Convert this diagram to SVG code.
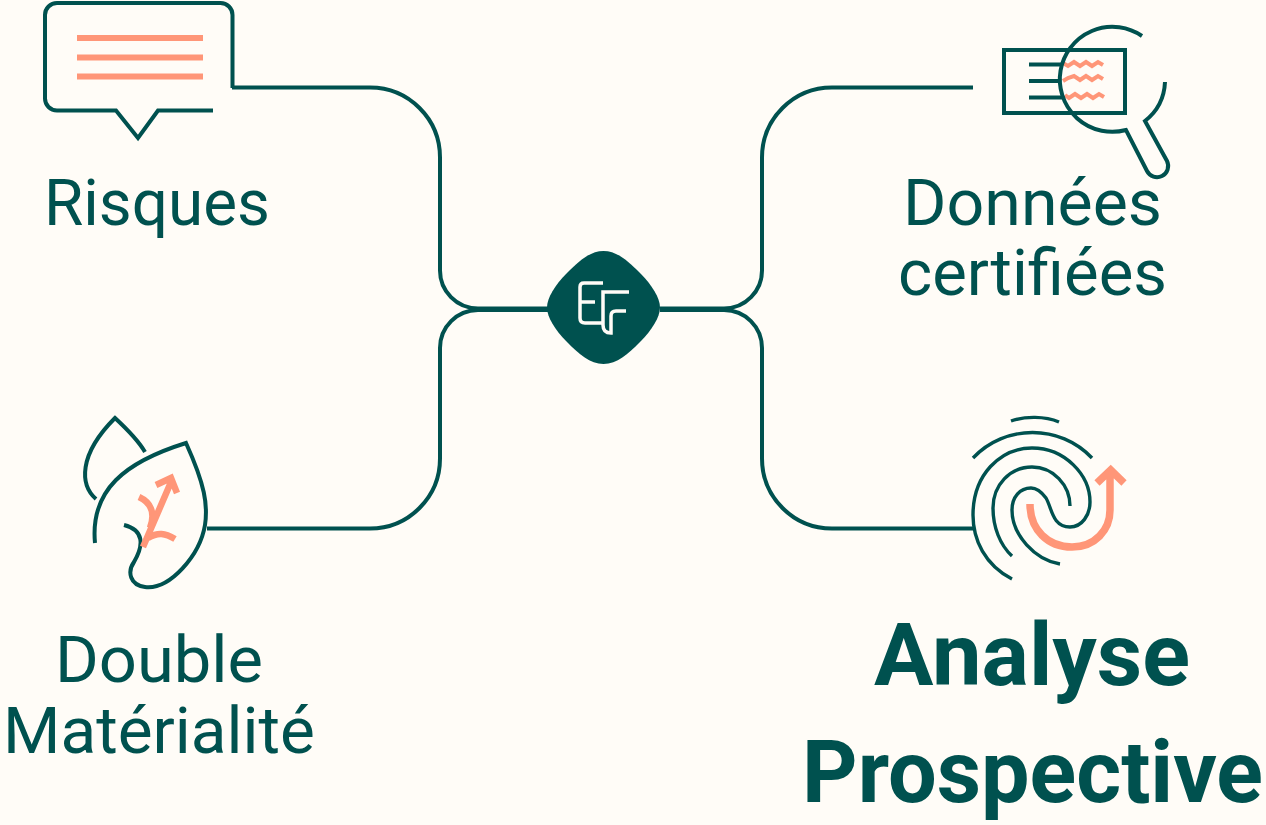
<svg xmlns="http://www.w3.org/2000/svg" width="1266" height="825" viewBox="0 0 1266 825">
<style>
.l{fill:none;stroke:#00514f;stroke-width:4}
.i{fill:none;stroke:#00514f;stroke-width:4}
.f{fill:none;stroke:#00514f;stroke-width:3.400}
.o{fill:none;stroke:#ff9678;stroke-width:6}
.p{fill:none;stroke:#ff9678;stroke-width:6.500}
.a{fill:none;stroke:#ff9678;stroke-width:7.500}
.w{fill:none;stroke:#ff9678;stroke-width:4}
.t{font-family:Roboto,"Open Sans",sans-serif;font-size:65px;fill:#00514f}
.b{font-family:Roboto,"Open Sans",sans-serif;font-size:87px;font-weight:700;fill:#00514f}
</style>
<rect width="1266" height="825" fill="#fffcf7"/>
<g id="connectors">
<path class="l" d="M232 87.500H370A70 70 0 0 1 440 157.500V270A38 38 0 0 0 478 308.500H548"/>
<path class="l" d="M207 528.500H370A70 70 0 0 0 440 458.500V348A38 38 0 0 1 478 310H548"/>
<path class="l" d="M973 87.500H832A70 70 0 0 0 762 157.500V270A38 38 0 0 1 724 308.500H660"/>
<path class="l" d="M973 528.500H832A70 70 0 0 1 762 458.500V348A38 38 0 0 0 724 310H660"/>
</g>
<g id="risques">
<path class="i" d="M232.500 88V15A12 12 0 0 0 220.500 3H57A12 12 0 0 0 45 15V98.500A12 12 0 0 0 57 110.500H116L138 138L158 110.500H213"/>
<path class="o" d="M77 38H203M77 57.500H203M77 76.500H203"/>
<text class="t" x="44" y="225" textLength="226" lengthAdjust="spacingAndGlyphs">Risques</text>
</g>
<g id="donnees">
<rect class="i" x="1004" y="50" width="121" height="63"/>
<path class="i" d="M1029 64.500H1062M1029 81H1060M1029 97.500H1062"/>
<path class="w" d="M1063 63l5 3l6-4l6 4l6-4l6 4l6-4l5 3M1063 81l5-3l6-2l6 4l6-4l6 4l6-4l5 3M1065 95l4 3l6-4l6 4l6-4l6 4l6-4l5 3"/>
<path class="i" d="M1142 36A52.500 52.500 0 1 0 1126 130L1147 171A10.500 10.500 0 0 0 1167 161L1145 121A52.500 52.500 0 0 0 1165 82"/>
<text class="t" x="903" y="225" textLength="259" lengthAdjust="spacingAndGlyphs">Données</text>
<text class="t" x="898" y="295" textLength="269" lengthAdjust="spacingAndGlyphs">certifiées</text>
</g>
<g id="center">
<path fill="#00514f" d="M603.500 251C617 251 628 261 640 273C652 285 660 298 660 307.500C660 317 652 330 640 342C628 354 617 364 603.500 364C590 364 579 354 567 342C555 330 547 317 547 307.500C547 298 555 285 567 273C579 261 590 251 603.500 251Z"/>
<path fill="none" stroke="#fffcf7" stroke-width="3.500" d="M603 283H584Q580 283 580 287V318Q580 323 585 323H604M581 302H595M629 292H603V325Q603 333 611 333V316Q611 311 616 311H626"/>
</g>
<g id="double">
<path class="i" d="M96 499C80 485 78 455 115 418C128 430 138 440 145 452"/>
<path class="i" d="M95 543C90 490 125 462 186 443C205 485 208 505 205 525C200 555 170 590 145 587C130 585 127 572 134 562C144 545 144 530 124 525"/>
<path class="p" d="M143 547L171 482M156 485L171 478L177 493M139 497C150 502 156 512 150 528M148 538C158 532 165 533 175 539"/>
<text class="t" x="55" y="682" textLength="208" lengthAdjust="spacingAndGlyphs">Double</text>
<text class="t" x="3" y="753" textLength="312" lengthAdjust="spacingAndGlyphs">Matérialité</text>
</g>
<g id="analyse">
<path class="f" d="M1011 421C1025 416 1045 416 1059 422M973 458C1005 424 1060 424 1092 458"/>
<path class="f" d="M1012 579C985 565 973 540 973 515C973 475 1000 448 1032 448C1065 448 1090 475 1090 502C1090 515 1082 527 1070 527C1052 527 1052 508 1046 498C1040 490 1036 488 1031 488C1020 488 1012 497 1012 510C1012 535 1035 560 1060 564"/>
<path class="f" d="M1012 556C1000 545 993 527 993 508C993 485 1010 467 1032 467C1053 467 1070 485 1070 506"/>
<path class="a" d="M1030 504C1030 530 1048 547 1072 547C1095 547 1110 530 1110 510V470M1097 483L1110.700 470L1124 483"/>
<text class="b" x="874" y="685" textLength="316" lengthAdjust="spacingAndGlyphs">Analyse</text>
<text class="b" x="802" y="802" textLength="461" lengthAdjust="spacingAndGlyphs">Prospective</text>
</g>
</svg>
